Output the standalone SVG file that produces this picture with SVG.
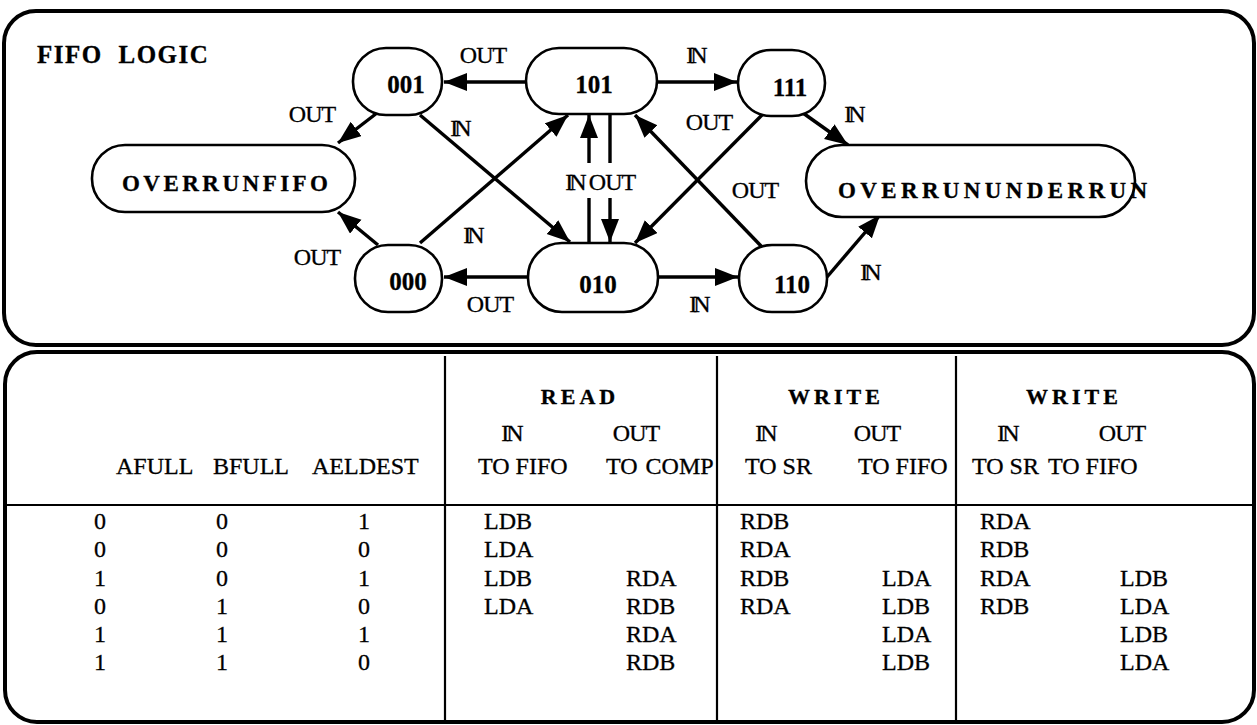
<svg xmlns="http://www.w3.org/2000/svg" width="1257" height="725" viewBox="0 0 1257 725">
<style>
text{font-family:"Liberation Serif","DejaVu Serif",serif;fill:#000;stroke:#000;stroke-width:0.3}
.panel{fill:#fff;stroke:#000;stroke-width:4}
.node{fill:#fff;stroke:#000;stroke-width:2.6}
.nl{font-size:25px;font-weight:bold;text-anchor:middle}
.big{font-size:23px;font-weight:bold}
.lbl{font-size:24px;letter-spacing:-1px;text-anchor:middle}
.in{letter-spacing:-4px}
.edge{fill:none;stroke:#000;stroke-width:3.4}
.grid{stroke:#000;stroke-width:2.2;fill:none}
.hd{font-size:22px;font-weight:bold;letter-spacing:4px;text-anchor:middle}
.th{font-size:24px}
.td{font-size:24px}
.c{text-anchor:middle}
</style>
<defs>
<marker id="ah" markerUnits="userSpaceOnUse" markerWidth="24" markerHeight="20" refX="23" refY="9" orient="auto">
<path d="M0,0 L23,9 L0,18 z" fill="#000"/>
</marker>
</defs>
<g id="panel-top">
<rect class="panel" x="4" y="11" width="1250" height="334" rx="32"/>
<text x="37" y="63" style="font-size:25px;font-weight:bold;letter-spacing:1.5px;word-spacing:8px">FIFO LOGIC</text>
</g>
<g id="connectors">
<path class="edge" d="M526,82 L444,82" marker-end="url(#ah)"/>
<path class="edge" d="M657,82 L737,82" marker-end="url(#ah)"/>
<path class="edge" d="M420,115 L570,242" marker-end="url(#ah)"/>
<path class="edge" d="M420,243 L568,115" marker-end="url(#ah)"/>
<path class="edge" d="M589,243 L589,198 M589,163 L589,115" marker-end="url(#ah)"/>
<path class="edge" d="M610,115 L610,163 M610,198 L610,242" marker-end="url(#ah)"/>
<path class="edge" d="M762,115 L635,243" marker-end="url(#ah)"/>
<path class="edge" d="M762,247 L635,115" marker-end="url(#ah)"/>
<path class="edge" d="M528,277 L444,277" marker-end="url(#ah)"/>
<path class="edge" d="M658,277 L738,277" marker-end="url(#ah)"/>
<path class="edge" d="M377,113 L338,143" marker-end="url(#ah)"/>
<path class="edge" d="M378,245 L338,212" marker-end="url(#ah)"/>
<path class="edge" d="M803,113 L848,145" marker-end="url(#ah)"/>
<path class="edge" d="M827,277 L880,215" marker-end="url(#ah)"/>
<text class="lbl" x="483" y="63">OUT</text>
<text class="lbl in" x="695" y="63">IN</text>
<text class="lbl in" x="459" y="136">IN</text>
<text class="lbl in" x="472" y="243">IN</text>
<text class="lbl in" x="574" y="190">IN</text>
<text class="lbl" x="612" y="190">OUT</text>
<text class="lbl" x="709" y="130">OUT</text>
<text class="lbl" x="755" y="198">OUT</text>
<text class="lbl" x="490" y="312">OUT</text>
<text class="lbl in" x="698" y="312">IN</text>
<text class="lbl" x="312" y="122">OUT</text>
<text class="lbl" x="317" y="265">OUT</text>
<text class="lbl in" x="853" y="122">IN</text>
<text class="lbl in" x="869" y="280">IN</text>
</g>
<g id="n001"><rect class="node" x="353" y="48" width="89" height="67" rx="33"/><text class="nl" x="406" y="93">001</text></g>
<g id="n101"><rect class="node" x="526" y="48" width="131" height="66" rx="33"/><text class="nl" x="594" y="93">101</text></g>
<g id="n111"><rect class="node" x="738" y="50" width="87" height="66" rx="33"/><text class="nl" x="790" y="96">111</text></g>
<g id="n000"><rect class="node" x="355" y="245" width="87" height="67" rx="33"/><text class="nl" x="408" y="290">000</text></g>
<g id="n010"><rect class="node" x="528" y="243" width="130" height="69" rx="34"/><text class="nl" x="598" y="293">010</text></g>
<g id="n110"><rect class="node" x="739" y="245" width="88" height="67" rx="33"/><text class="nl" x="792" y="293">110</text></g>
<g id="nOverrunFifo"><rect class="node" x="92" y="145" width="263" height="67" rx="33"/><text class="big" x="122" y="191" textLength="206" lengthAdjust="spacing">OVERRUNFIFO</text></g>
<g id="nOverrunUnderrun"><rect class="node" x="806" y="145" width="329" height="72" rx="36"/><text class="big" x="838" y="198" textLength="309" lengthAdjust="spacing">OVERRUNUNDERRUN</text></g>
<g id="panel-bottom">
<rect class="panel" x="5" y="352" width="1249" height="370" rx="32"/>
<path class="grid" d="M5,505 L1254,505 M445,356 L445,722 M717,356 L717,722 M956,356 L956,722"/>
</g>
<g id="table-header">
<text class="th" x="116" y="474">AFULL</text>
<text class="th" x="213" y="474">BFULL</text>
<text class="th" x="312" y="474">AELDEST</text>
<text class="hd" x="580" y="404">READ</text>
<text class="th c" x="511" y="441" style="letter-spacing:-3px">IN</text>
<text class="th c" x="636" y="441" style="letter-spacing:-1px">OUT</text>
<text class="th" x="478" y="474">TO FIFO</text>
<text class="th" x="606" y="474" style="word-spacing:2px">TO COMP</text>
<text class="hd" x="836" y="404">WRITE</text>
<text class="th c" x="765" y="441" style="letter-spacing:-3px">IN</text>
<text class="th c" x="877" y="441" style="letter-spacing:-1px">OUT</text>
<text class="th" x="745" y="474">TO SR</text>
<text class="th" x="858" y="474">TO FIFO</text>
<text class="hd" x="1074" y="404">WRITE</text>
<text class="th c" x="1007" y="441" style="letter-spacing:-3px">IN</text>
<text class="th c" x="1122" y="441" style="letter-spacing:-1px">OUT</text>
<text class="th" x="972" y="474">TO SR</text>
<text class="th" x="1048" y="474">TO FIFO</text>
</g>
<g id="table-body">
<text class="td c" x="100" y="529">0</text><text class="td c" x="222" y="529">0</text><text class="td c" x="364" y="529">1</text>
<text class="td" x="484" y="529">LDB</text><text class="td" x="740" y="529">RDB</text><text class="td" x="980" y="529">RDA</text>
<text class="td c" x="100" y="557">0</text><text class="td c" x="222" y="557">0</text><text class="td c" x="364" y="557">0</text>
<text class="td" x="484" y="557">LDA</text><text class="td" x="740" y="557">RDA</text><text class="td" x="980" y="557">RDB</text>
<text class="td c" x="100" y="586">1</text><text class="td c" x="222" y="586">0</text><text class="td c" x="364" y="586">1</text>
<text class="td" x="484" y="586">LDB</text><text class="td" x="626" y="586">RDA</text><text class="td" x="740" y="586">RDB</text><text class="td" x="882" y="586">LDA</text><text class="td" x="980" y="586">RDA</text><text class="td" x="1120" y="586">LDB</text>
<text class="td c" x="100" y="614">0</text><text class="td c" x="222" y="614">1</text><text class="td c" x="364" y="614">0</text>
<text class="td" x="484" y="614">LDA</text><text class="td" x="626" y="614">RDB</text><text class="td" x="740" y="614">RDA</text><text class="td" x="882" y="614">LDB</text><text class="td" x="980" y="614">RDB</text><text class="td" x="1120" y="614">LDA</text>
<text class="td c" x="100" y="642">1</text><text class="td c" x="222" y="642">1</text><text class="td c" x="364" y="642">1</text>
<text class="td" x="626" y="642">RDA</text><text class="td" x="882" y="642">LDA</text><text class="td" x="1120" y="642">LDB</text>
<text class="td c" x="100" y="670">1</text><text class="td c" x="222" y="670">1</text><text class="td c" x="364" y="670">0</text>
<text class="td" x="626" y="670">RDB</text><text class="td" x="882" y="670">LDB</text><text class="td" x="1120" y="670">LDA</text>
</g>
</svg>
